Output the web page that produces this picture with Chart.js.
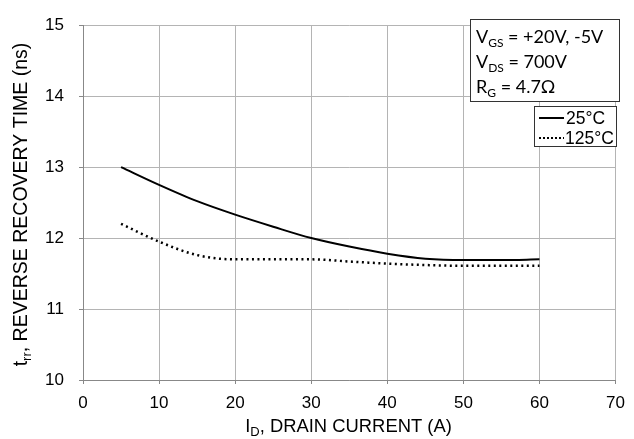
<!DOCTYPE html>
<html>
<head>
<meta charset="utf-8">
<script src="https://cdn.jsdelivr.net/npm/chart.js@4.4.1/dist/chart.umd.min.js"></script>
<style>
  html, body { margin: 0; padding: 0; background: #fff; }
  #wrap { width: 634px; height: 439px; }
</style>
</head>
<body>
<div id="wrap"><canvas id="chart" width="634" height="439"></canvas></div>
<script>
// drain current (A)
const current = [5, 10, 15, 20, 25, 30, 35, 40, 45, 50, 55, 60];
// reverse recovery time (ns)
const trr25 = [13.0, 12.75, 12.52, 12.33, 12.16, 12.0, 11.88, 11.78, 11.71, 11.69, 11.69, 11.70];
const trr125 = [12.2, 11.95, 11.76, 11.70, 11.70, 11.70, 11.67, 11.64, 11.62, 11.61, 11.61, 11.61];
const seriesLabels = ['25°C', '125°C'];
const conditions = [
  ['V', 'GS', ' = +20V, -5V'],
  ['V', 'DS', ' = 700V'],
  ['R', 'G', ' = 4.7Ω']
];

const toPoints = ys => current.map((x, i) => ({ x: x, y: ys[i] }));

// draws text with a subscript part: main, sub, rest
function subText(ctx, x, y, main, sub, rest, size, family, align) {
  const big = size + 'px ' + family;
  const small = Math.round(size * 0.68) + 'px ' + family;
  ctx.font = big;
  const w1 = ctx.measureText(main).width;
  const w3 = ctx.measureText(rest).width;
  ctx.font = small;
  const w2 = ctx.measureText(sub).width;
  const total = w1 + w2 + w3;
  let x0 = align === 'center' ? x - total / 2 : x;
  ctx.textAlign = 'left';
  ctx.textBaseline = 'alphabetic';
  ctx.font = big;
  ctx.fillText(main, x0, y);
  ctx.font = small;
  ctx.fillText(sub, x0 + w1, y + size * 0.22);
  ctx.font = big;
  ctx.fillText(rest, x0 + w1 + w2, y);
}

const extras = {
  id: 'extras',
  afterDraw(chart) {
    const ctx = chart.ctx;
    ctx.save();
    ctx.fillStyle = '#000';

    // axis titles
    subText(ctx, 348.5, 431.5, 'I', 'D', ', DRAIN CURRENT (A)', 18.4, 'Liberation Sans, Arial', 'center');
    ctx.save();
    ctx.translate(27, 204.5);
    ctx.rotate(-Math.PI / 2);
    subText(ctx, 0, 0, 't', 'rr', ', REVERSE RECOVERY TIME (ns)', 19.5, 'Liberation Sans, Arial', 'center');
    ctx.restore();

    // conditions box
    ctx.fillStyle = '#fff';
    ctx.fillRect(470.5, 19.5, 149, 82);
    ctx.strokeStyle = '#333';
    ctx.lineWidth = 1;
    ctx.strokeRect(470.5, 19.5, 149, 82);
    ctx.fillStyle = '#000';
    conditions.forEach((c, i) => {
      subText(ctx, 476, 43 + i * 25, c[0], c[1], c[2], 18, 'Lato, Carlito, sans-serif', 'left');
    });

    // legend box
    ctx.fillStyle = '#fff';
    ctx.fillRect(534.5, 106.5, 82, 40);
    ctx.strokeStyle = '#333';
    ctx.strokeRect(534.5, 106.5, 82, 40);
    ctx.strokeStyle = '#000';
    ctx.lineWidth = 2;
    ctx.beginPath();
    ctx.moveTo(539, 118);
    ctx.lineTo(564, 118);
    ctx.stroke();
    ctx.setLineDash([2, 2]);
    ctx.beginPath();
    ctx.moveTo(539, 138);
    ctx.lineTo(564, 138);
    ctx.stroke();
    ctx.setLineDash([]);
    ctx.fillStyle = '#000';
    ctx.font = '17.5px Liberation Sans, Arial';
    ctx.textAlign = 'left';
    ctx.textBaseline = 'middle';
    ctx.fillText(seriesLabels[0], 566, 119);
    ctx.fillText(seriesLabels[1], 565, 139);
    ctx.restore();
  }
};

new Chart(document.getElementById('chart'), {
  type: 'line',
  data: {
    datasets: [
      {
        label: seriesLabels[0],
        data: toPoints(trr25),
        borderColor: '#000',
        borderWidth: 2,
        pointRadius: 0,
        cubicInterpolationMode: 'monotone'
      },
      {
        label: seriesLabels[1],
        data: toPoints(trr125),
        borderColor: '#000',
        borderWidth: 2.5,
        borderDash: [2, 3.5],
        pointRadius: 0,
        cubicInterpolationMode: 'monotone'
      }
    ]
  },
  options: {
    responsive: false,
    animation: false,
    layout: { padding: { top: 15, right: 14, left: 0, bottom: 0 } },
    plugins: {
      legend: { display: false },
      tooltip: { enabled: false }
    },
    scales: {
      x: {
        type: 'linear',
        min: 0,
        max: 70,
        afterFit: s => { s.height = 59; },
        ticks: {
          stepSize: 10,
          padding: 9,
          color: '#000',
          font: { family: 'Liberation Sans, Arial', size: 17 }
        },
        grid: { color: '#b4b4b4', tickLength: 4, tickColor: '#888' },
        border: { color: '#888' }
      },
      y: {
        min: 10,
        max: 15,
        afterFit: s => { s.width = 83; },
        ticks: {
          stepSize: 1,
          padding: 15,
          color: '#000',
          font: { family: 'Liberation Sans, Arial', size: 17 }
        },
        grid: { color: '#b4b4b4', tickLength: 4, tickColor: '#888' },
        border: { color: '#888' }
      }
    }
  },
  plugins: [extras]
});
</script>
</body>
</html>
